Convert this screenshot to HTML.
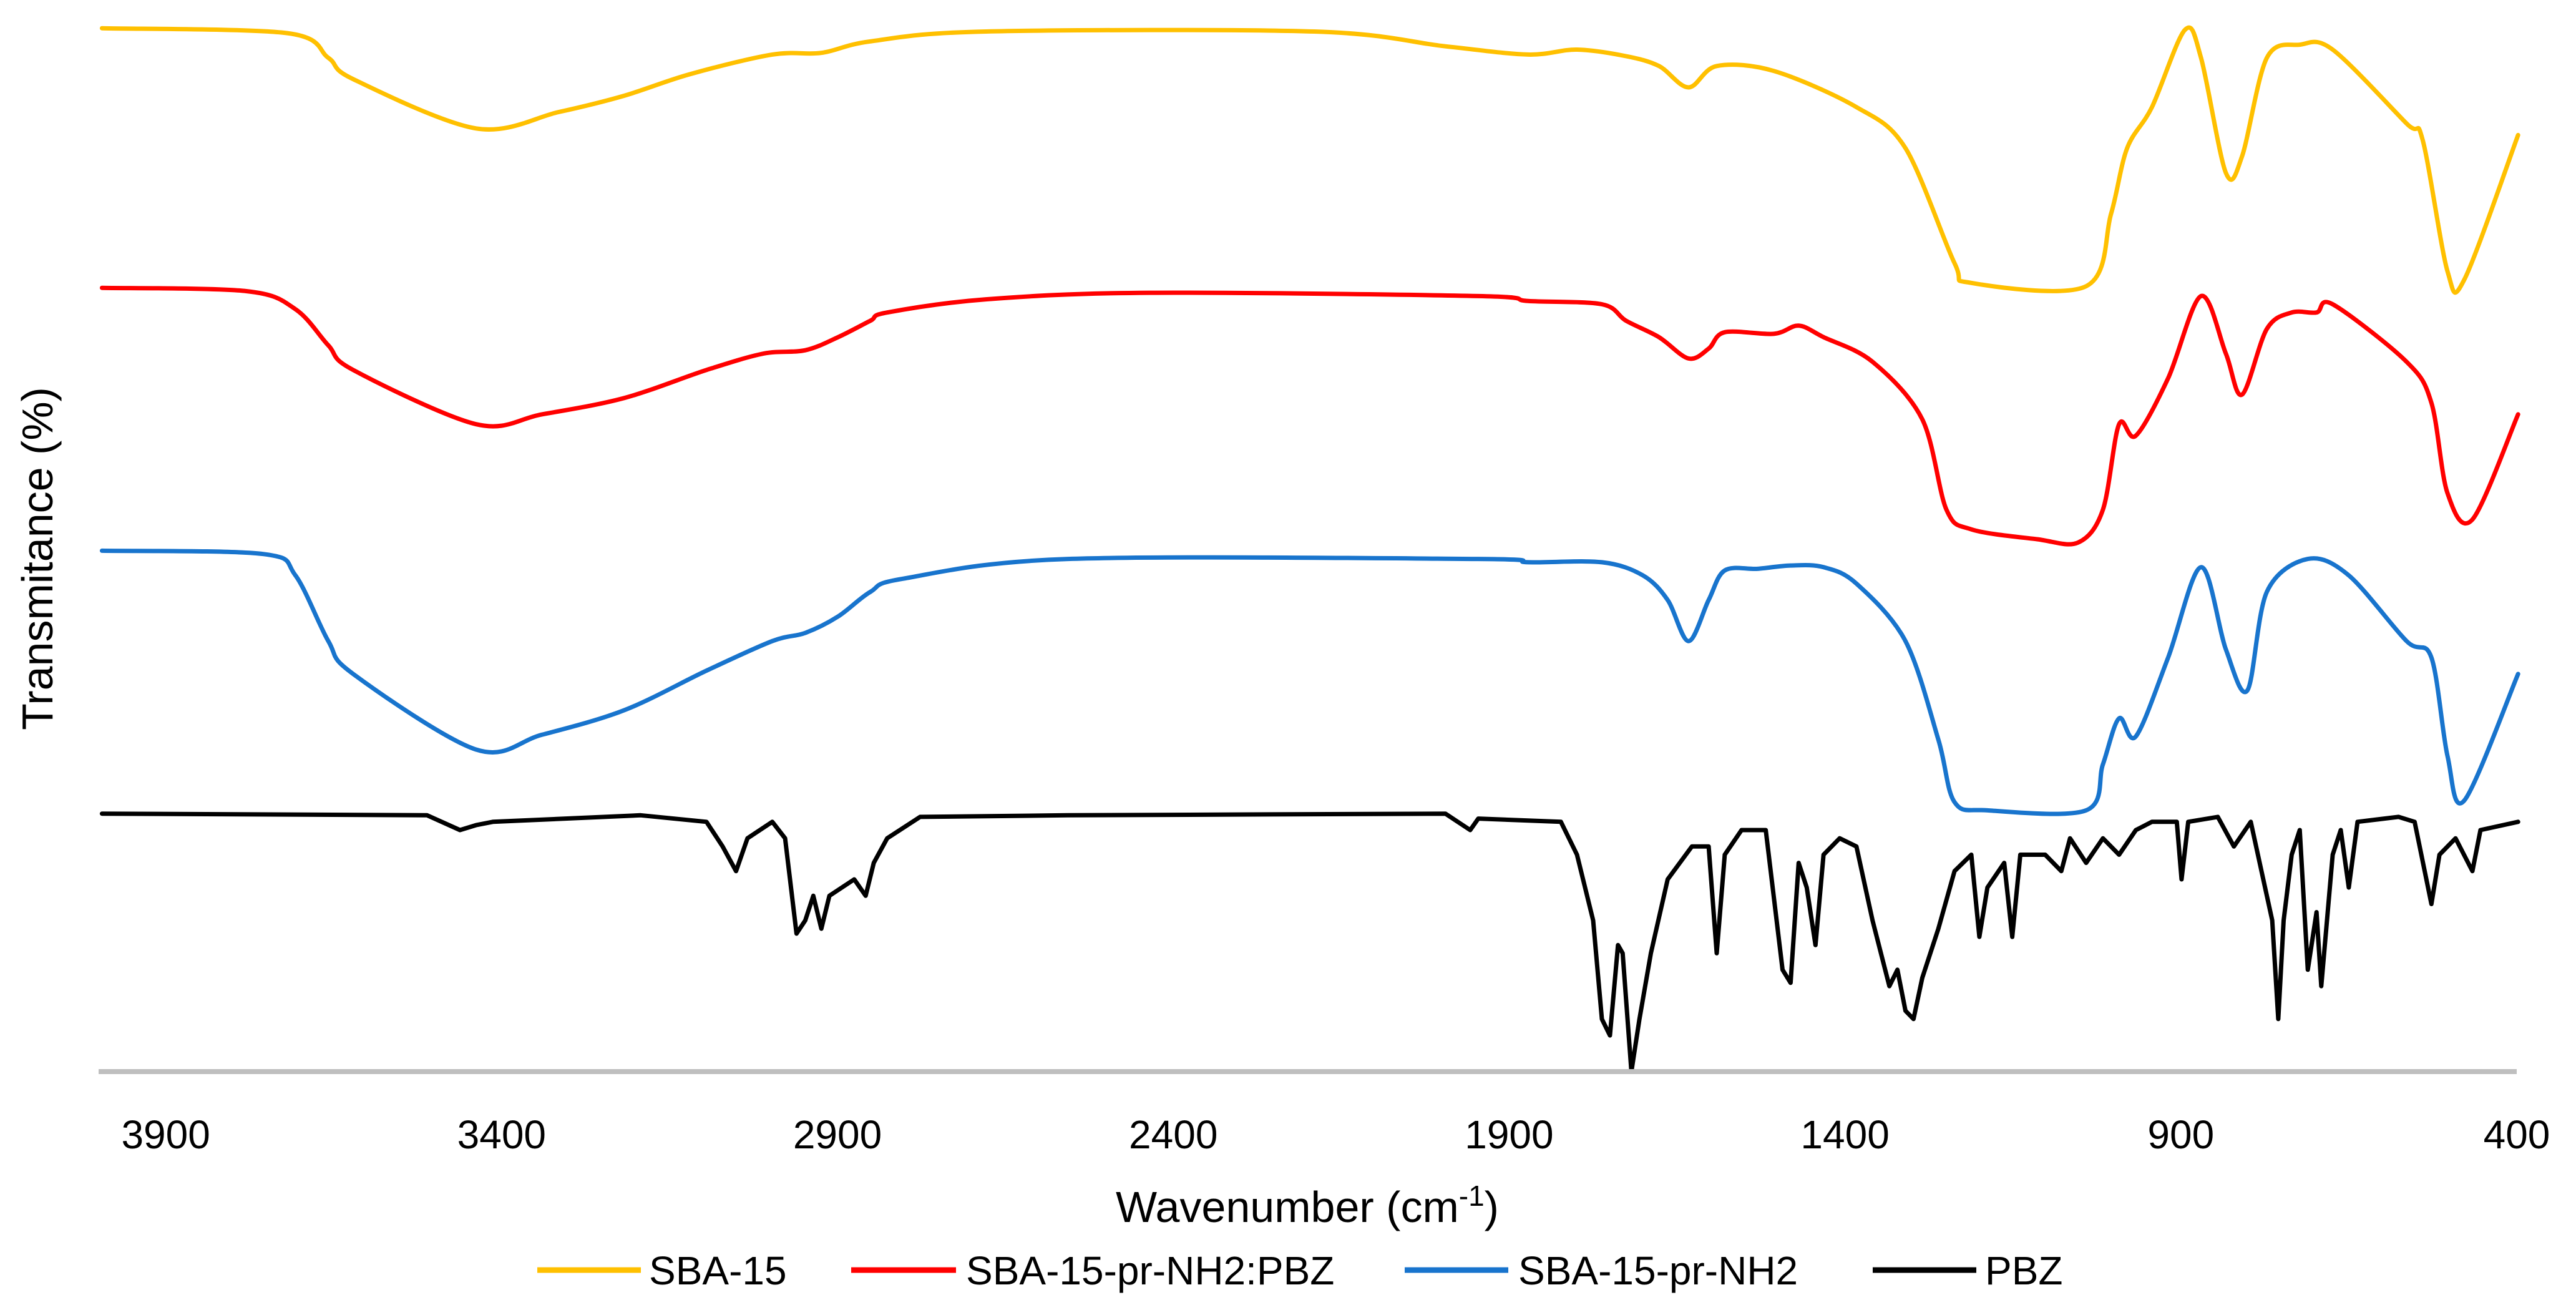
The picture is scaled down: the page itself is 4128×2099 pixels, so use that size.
<!DOCTYPE html>
<html><head><meta charset="utf-8"><style>
html,body{margin:0;padding:0;background:#fff;}
svg{display:block;}
text{font-family:"Liberation Sans",sans-serif;fill:#000;}
</style></head><body>
<svg id="chart" width="4128" height="2099" viewBox="0 0 4128 2099" xmlns="http://www.w3.org/2000/svg">
<rect width="4128" height="2099" fill="#fff"/>
<g id="series"></g>
<line x1="158" y1="1717" x2="4033" y2="1717" stroke="#BFBFBF" stroke-width="8"/>
<g id="ticks"></g>
<text x="2095" y="1958" font-size="70" text-anchor="middle">Wavenumber (cm<tspan font-size="46" dy="-26">-1</tspan><tspan dy="26">)</tspan></text>
<text transform="translate(84,895) rotate(-90)" font-size="70" text-anchor="middle">Transmitance (%)</text>
<g>
<g><line x1="861" y1="2035" x2="1027" y2="2035" stroke="#FFC000" stroke-width="9"/><text x="1040" y="2058" font-size="64">SBA-15</text></g>
<g><line x1="1364" y1="2035" x2="1532" y2="2035" stroke="#FF0000" stroke-width="9"/><text x="1548" y="2058" font-size="64">SBA-15-pr-NH2:PBZ</text></g>
<g><line x1="2251" y1="2035" x2="2417" y2="2035" stroke="#1874CD" stroke-width="9"/><text x="2433" y="2058" font-size="64">SBA-15-pr-NH2</text></g>
<g><line x1="3001" y1="2035" x2="3167" y2="2035" stroke="#000" stroke-width="9"/><text x="3181" y="2058" font-size="64">PBZ</text></g>
</g>
</svg>
<script>
const tickLabels = [3900, 3400, 2900, 2400, 1900, 1400, 900, 400];

const sbaWn = [3995,3719,3658,3621,3438,3315,3217,3120,2997,2924,2851,2679,2190,1995,1872,1799,1726,1677,1633,1591,1506,1383,1310,1237,1212,1041,1004,980,943,894,870,833,809,772,723,674,564,540,503,478,398];
const sbaT = [635,632,617,604,574,584,594,607,619,620,627,633,633,624,619,622,618,612,599,612,609,587,562,492,480,478,522,562,587,634,617,547,557,617,625,622,577,567,487,482,570];

const pbzCompWn = [3995,3780,3707,3658,3621,3438,3340,3217,3095,3010,2948,2899,2851,2826,2679,2435,1946,1872,1762,1726,1677,1633,1603,1579,1506,1469,1432,1359,1285,1249,1212,1114,1053,1016,992,967,919,870,833,809,772,735,698,674,564,527,503,466,398];
const pbzCompT = [477,475,464,442,427,394,400,410,427,437,439,447,457,462,470,474,472,469,467,457,447,434,440,450,449,454,447,432,397,342,330,324,322,342,394,387,422,472,437,412,452,462,462,467,432,407,352,336,400];

const nh2Wn = [3995,3755,3707,3658,3621,3438,3340,3217,3095,2997,2948,2899,2851,2802,2557,1946,1872,1762,1701,1664,1633,1603,1579,1530,1481,1432,1383,1310,1261,1237,1188,1041,1016,992,967,919,870,833,801,772,711,650,564,527,503,478,398];
const nh2T = [317,315,302,262,242,196,205,220,244,262,267,277,292,300,312,312,310,310,302,287,262,287,305,306,308,307,297,262,202,164,159,159,187,215,204,252,307,257,232,292,312,302,262,252,192,165,242];

const pbzWn = [3995,3511,3462,3438,3413,3193,3095,3071,3051,3034,2997,2978,2961,2948,2936,2924,2912,2875,2858,2846,2826,2777,2557,1995,1958,1946,1823,1799,1775,1762,1750,1738,1731,1718,1706,1689,1664,1628,1603,1591,1579,1554,1518,1493,1481,1469,1457,1444,1432,1408,1383,1359,1334,1322,1310,1298,1285,1261,1237,1212,1200,1188,1163,1151,1139,1102,1078,1065,1041,1016,992,967,943,906,899,889,845,821,796,764,755,747,735,723,711,698,691,674,662,650,637,576,552,527,515,491,466,454,398];
const pbzT = [157,156,147,150,152,156,152,137,122,142,152,142,84,92,107,87,107,117,107,127,142,155,156,157,147,154,152,132,92,32,22,77,72,0,32,72,117,137,137,72,132,147,147,62,54,127,112,77,132,142,137,92,52,62,37,32,57,87,122,132,82,112,127,82,132,132,122,142,127,142,132,147,152,152,117,152,155,137,152,92,32,92,132,147,62,97,52,132,147,112,152,155,152,102,132,142,122,147,152];

function xScale(v){ return 158 + (4000 - v) * (3875 / 3600); }
function yScale(t){ return 1717 - t * 2.6327; }

const svgNS = "http://www.w3.org/2000/svg";
const seriesG = document.getElementById('series');
const ticksG = document.getElementById('ticks');

tickLabels.forEach(function(v){
  const t = document.createElementNS(svgNS, 'text');
  t.setAttribute('x', xScale(v));
  t.setAttribute('y', 1840);
  t.setAttribute('font-size', '64');
  t.setAttribute('text-anchor', 'middle');
  t.textContent = v;
  
  
  ticksG.appendChild(t);
});

function drawSeries(wn, tv, color, name, smooth){
  const pts = wn.map(function(w, i){ return [xScale(w), yScale(tv[i])]; });
  let d = 'M' + pts[0][0].toFixed(1) + ',' + pts[0][1].toFixed(1);
  for (let i = 1; i < pts.length; i++) {
    if (smooth) {
      const p0 = pts[Math.max(0, i - 2)], p1 = pts[i - 1], p2 = pts[i], p3 = pts[Math.min(pts.length - 1, i + 1)];
      const k = 0.16;
      const c1x = p1[0] + (p2[0] - p0[0]) * k, c1y = p1[1] + (p2[1] - p0[1]) * k;
      const c2x = p2[0] - (p3[0] - p1[0]) * k, c2y = p2[1] - (p3[1] - p1[1]) * k;
      d += 'C' + c1x.toFixed(1) + ',' + c1y.toFixed(1) + ' ' + c2x.toFixed(1) + ',' + c2y.toFixed(1) + ' ' + p2[0].toFixed(1) + ',' + p2[1].toFixed(1);
    } else {
      d += 'L' + pts[i][0].toFixed(1) + ',' + pts[i][1].toFixed(1);
    }
  }
  const p = document.createElementNS(svgNS, 'path');
  p.setAttribute('d', d);
  p.setAttribute('fill', 'none');
  p.setAttribute('stroke', color);
  p.setAttribute('stroke-width', '7');
  p.setAttribute('stroke-linejoin', 'round');
  p.setAttribute('stroke-linecap', 'round');
  
  
  seriesG.appendChild(p);
}
drawSeries(sbaWn, sbaT, '#FFC000', 'series-sba-15', true);
drawSeries(pbzCompWn, pbzCompT, '#FF0000', 'series-sba-15-pr-nh2-pbz', true);
drawSeries(nh2Wn, nh2T, '#1874CD', 'series-sba-15-pr-nh2', true);
drawSeries(pbzWn, pbzT, '#000000', 'series-pbz', false);
</script>
</body></html>
